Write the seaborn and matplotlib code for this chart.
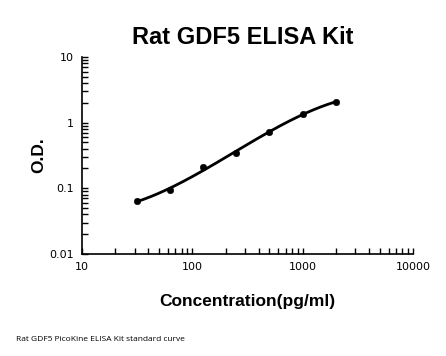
import matplotlib
matplotlib.use("Agg")
import matplotlib.pyplot as plt
import numpy as np
import pandas as pd
import seaborn as sns
from matplotlib.ticker import LogLocator, FixedLocator, FixedFormatter, NullFormatter

# standard curve readings
concentration = [31.25, 62.5, 125, 250, 500, 1000, 2000]
od = [0.063, 0.094, 0.208, 0.339, 0.73, 1.36, 2.06]
x_ticks = [10, 100, 1000, 10000]
x_tick_labels = ['10', '100', '1000', '10000']
y_ticks = [0.01, 0.1, 1, 10]
y_tick_labels = ['0.01', '0.1', '1', '10']

df = pd.DataFrame({'conc': concentration, 'od': od})

# smooth cubic fit in log-log space for the standard curve line
coef = np.polyfit(np.log10(df.conc), np.log10(df.od), 3)
fit_x = np.logspace(np.log10(df.conc.min()), np.log10(df.conc.max()), 200)
fit_df = pd.DataFrame({'conc': fit_x,
                       'od': 10 ** np.polyval(coef, np.log10(fit_x))})

sns.set_style("white")
plt.rcParams['font.family'] = ['DejaVu Sans']
plt.rcParams['text.color'] = 'black'
plt.rcParams['axes.labelcolor'] = 'black'
plt.rcParams['xtick.color'] = 'black'
plt.rcParams['ytick.color'] = 'black'

fig = plt.figure(figsize=(4.46, 3.56), dpi=100)
ax = fig.add_axes([0.184, 0.287, 0.742, 0.553])

sns.lineplot(x='conc', y='od', data=fit_df, ax=ax, color='black', linewidth=2)
sns.scatterplot(x='conc', y='od', data=df, ax=ax, color='black', s=22,
                edgecolor='black', zorder=3)

ax.set_xscale('log')
ax.set_yscale('log')
ax.set_xlim(10, 10000)
ax.set_ylim(0.01, 10)

ax.xaxis.set_major_locator(FixedLocator(x_ticks))
ax.xaxis.set_major_formatter(FixedFormatter(x_tick_labels))
ax.yaxis.set_major_locator(FixedLocator(y_ticks))
ax.yaxis.set_major_formatter(FixedFormatter(y_tick_labels))
ax.xaxis.set_minor_locator(LogLocator(base=10, subs=np.arange(2, 10)))
ax.yaxis.set_minor_locator(LogLocator(base=10, subs=np.arange(2, 10)))
ax.xaxis.set_minor_formatter(NullFormatter())
ax.yaxis.set_minor_formatter(NullFormatter())

ax.tick_params(which='both', direction='in', length=4, width=1, color='black',
               left=True, bottom=True, labelsize=8, pad=6, labelcolor='black')
for side in ['top', 'right']:
    ax.spines[side].set_visible(False)
for side in ['left', 'bottom']:
    ax.spines[side].set_color('black')
    ax.spines[side].set_linewidth(1.2)

ax.set_xlabel('Concentration(pg/ml)', fontsize=12.5, fontweight='bold',
              family='Liberation Sans', labelpad=16, color='black')
ax.set_ylabel('O.D.', fontsize=12.5, fontweight='bold',
              family='Liberation Sans', labelpad=2, color='black')
fig.text(0.545, 0.895, 'Rat GDF5 ELISA Kit', ha='center', va='center',
         fontsize=17, fontweight='bold', family='Liberation Sans', color='black')
fig.text(0.035, 0.045, 'Rat GDF5 PicoKine ELISA Kit standard curve',
         fontsize=6, family='Open Sans', ha='left', va='center', color='black')

fig.savefig('out.png', dpi=100)
